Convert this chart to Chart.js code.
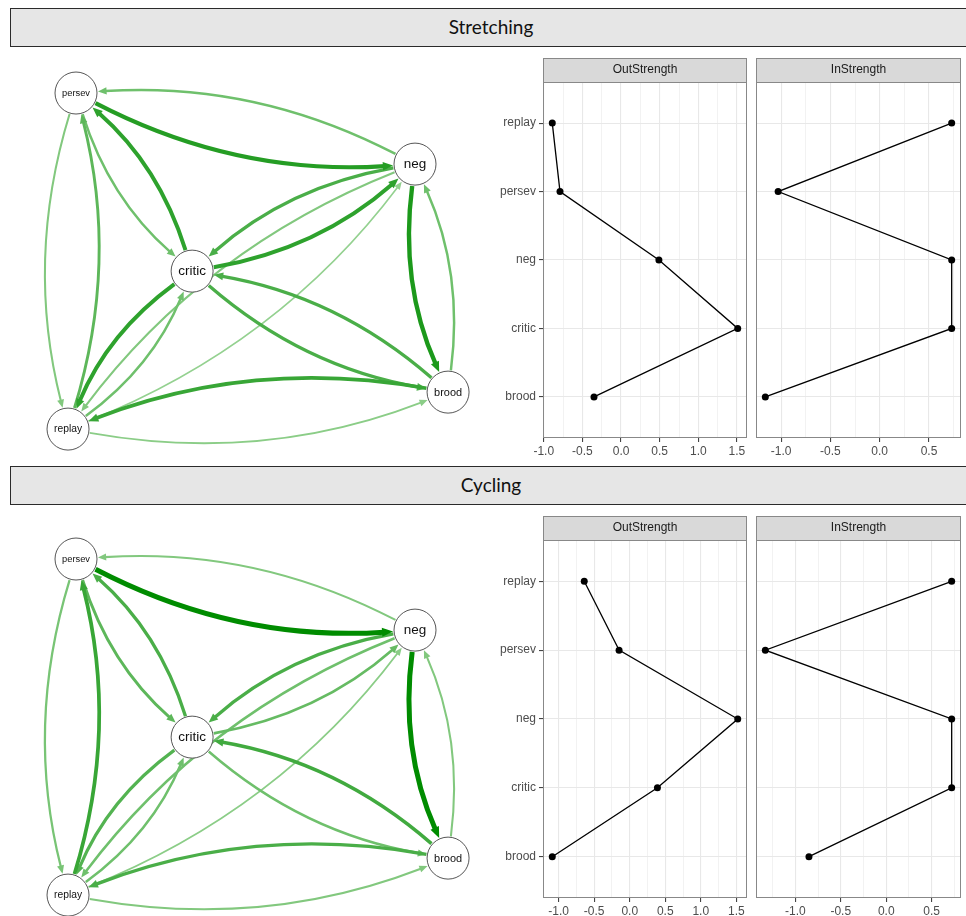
<!DOCTYPE html>
<html>
<head>
<meta charset="utf-8">
<script src="https://cdn.jsdelivr.net/npm/chart.js@4.4.1/dist/chart.umd.min.js"></script>
<style>
  body { margin: 0; background: #fff; width: 966px; height: 916px; position: relative; overflow: hidden; }
  .head { position: absolute; left: 10px; width: 962px; height: 39px; box-sizing: border-box;
          background: #e6e6e6; border: 1.5px solid #2b2b2b; text-align: center;
          font-family: Lato, sans-serif; font-size: 19px; line-height: 36px; color: #111; }
  canvas { position: absolute; }
</style>
</head>
<body>
<div class="head" style="top:8px">Stretching</div>
<div class="head" style="top:466px">Cycling</div>

<canvas id="netTop" width="480" height="410" style="left:0;top:50px"></canvas>
<canvas id="netBot" width="480" height="410" style="left:0;top:516px"></canvas>
<canvas id="outTop" width="262" height="406" style="left:490px;top:56px"></canvas>
<canvas id="inTop" width="214" height="406" style="left:752px;top:56px"></canvas>
<canvas id="outBot" width="262" height="408" style="left:490px;top:514px"></canvas>
<canvas id="inBot" width="214" height="408" style="left:752px;top:514px"></canvas>

<script>
// network nodes (layout coordinates)
const nodes = ['persev', 'neg', 'critic', 'brood', 'replay'];
const nodeX = [-0.958, 0.826, -0.347, 1.0, -1.0];
const nodeY = [1.0, 0.577, -0.06, -0.78, -1.0];

// directed edges
const edgeFrom = ['persev', 'neg', 'persev', 'critic', 'persev', 'replay', 'neg', 'critic', 'neg', 'brood',
                  'neg', 'replay', 'critic', 'brood', 'critic', 'replay', 'brood', 'replay', 'persev', 'brood'];
const edgeTo   = ['neg', 'persev', 'critic', 'persev', 'replay', 'persev', 'critic', 'neg', 'brood', 'neg',
                  'replay', 'neg', 'brood', 'critic', 'replay', 'critic', 'replay', 'brood', 'brood', 'persev'];
const stretchWeights = [0.8, 0.4, 0.4, 0.75, 0.3, 0.5, 0.6, 0.75, 0.85, 0.4,
                        0.3, 0.2, 0.6, 0.6, 0.75, 0.4, 0.7, 0.25, 0, 0];
const cycleWeights   = [1.0, 0.3, 0.5, 0.6, 0.35, 0.7, 0.6, 0.45, 1.0, 0.3,
                        0.4, 0.25, 0.4, 0.65, 0.55, 0.4, 0.6, 0.3, 0, 0];

// centrality plots
const categories = ['replay', 'persev', 'neg', 'critic', 'brood'];
const stretchOut = [-0.89, -0.79, 0.49, 1.51, -0.35];
const stretchIn  = [0.73, -1.03, 0.73, 0.73, -1.16];
const cycleOut   = [-0.64, -0.15, 1.52, 0.39, -1.09];
const cycleIn    = [0.72, -1.33, 0.72, 0.72, -0.85];

const light = [185, 226, 180], dark = [0, 140, 0];
function edgeColor(w) {
  const c = light.map((l, i) => Math.round(l + (dark[i] - l) * w));
  return 'rgb(' + c.join(',') + ')';
}

const edgePlugin = {
  id: 'edges',
  beforeDatasetsDraw(chart, args, opts) {
    const {ctx, scales: {x, y}} = chart;
    const r = 22;
    const order = opts.weights.map((w, k) => k).sort((a, b) => opts.weights[a] - opts.weights[b]);
    ctx.save();
    order.forEach(k => {
      const w = opts.weights[k];
      if (!w) return;
      const f = nodes.indexOf(edgeFrom[k]), t = nodes.indexOf(edgeTo[k]);
      const sx = x.getPixelForValue(nodeX[f]), sy = y.getPixelForValue(nodeY[f]);
      const ex = x.getPixelForValue(nodeX[t]), ey = y.getPixelForValue(nodeY[t]);
      const dx = ex - sx, dy = ey - sy;
      // bend to the right of the direction of travel
      const cx = (sx + ex) / 2 - dy * 0.14, cy = (sy + ey) / 2 + dx * 0.14;
      let ux = cx - sx, uy = cy - sy, ul = Math.hypot(ux, uy);
      ux /= ul; uy /= ul;
      let vx = ex - cx, vy = ey - cy, vl = Math.hypot(vx, vy);
      vx /= vl; vy /= vl;
      const x0 = sx + ux * r, y0 = sy + uy * r;
      const tx = ex - vx * r, ty = ey - vy * r;
      const al = 7 + 4 * w, aw = 3 + 1.6 * w;
      const bx = tx - vx * al * 0.8, by = ty - vy * al * 0.8;
      const col = edgeColor(w);
      ctx.strokeStyle = col;
      ctx.fillStyle = col;
      ctx.lineWidth = 0.8 + 4.2 * w;
      ctx.beginPath();
      ctx.moveTo(x0, y0);
      ctx.quadraticCurveTo(cx, cy, bx, by);
      ctx.stroke();
      ctx.beginPath();
      ctx.moveTo(tx, ty);
      ctx.lineTo(tx - vx * al - vy * aw, ty - vy * al + vx * aw);
      ctx.lineTo(tx - vx * al + vy * aw, ty - vy * al - vx * aw);
      ctx.closePath();
      ctx.fill();
    });
    ctx.restore();
  },
  afterDatasetsDraw(chart) {
    const {ctx, scales: {x, y}} = chart;
    ctx.save();
    ctx.fillStyle = '#111';
    ctx.textAlign = 'center';
    ctx.textBaseline = 'middle';
    nodes.forEach((n, i) => {
      ctx.font = '13.5px "Liberation Sans", Arial, sans-serif';
      const wdt = ctx.measureText(n).width;
      const size = Math.min(13.5, 13.5 * 28 / wdt);
      ctx.font = size + 'px "Liberation Sans", Arial, sans-serif';
      ctx.fillText(n, x.getPixelForValue(nodeX[i]), y.getPixelForValue(nodeY[i]) + 0.5);
    });
    ctx.restore();
  }
};

function netChart(id, weights) {
  return new Chart(document.getElementById(id), {
    type: 'scatter',
    data: {
      datasets: [{
        data: nodes.map((n, i) => ({x: nodeX[i], y: nodeY[i]})),
        pointRadius: 21,
        pointBackgroundColor: '#fff',
        pointBorderColor: '#555',
        pointBorderWidth: 1,
        clip: false
      }]
    },
    options: {
      responsive: false,
      animation: false,
      events: [],
      layout: {padding: 0, autoPadding: false},
      plugins: {legend: {display: false}, tooltip: {enabled: false}, edges: {weights: weights}},
      scales: {
        x: {display: false, min: -1.358, max: 1.168},
        y: {display: false, min: -1.184, max: 1.256}
      }
    },
    plugins: [edgePlugin]
  });
}

const stripPlugin = {
  id: 'strip',
  afterDraw(chart, args, opts) {
    const {ctx, chartArea: a} = chart;
    ctx.save();
    ctx.fillStyle = '#d9d9d9';
    ctx.fillRect(a.left, a.top - 24, a.right - a.left, 24);
    ctx.strokeStyle = '#888';
    ctx.lineWidth = 1;
    ctx.strokeRect(a.left + 0.5, a.top - 23.5, a.right - a.left - 1, 24);
    ctx.strokeRect(a.left + 0.5, a.top + 0.5, a.right - a.left - 1, a.bottom - a.top - 1);
    ctx.fillStyle = '#1a1a1a';
    ctx.font = '12px "Liberation Sans", Arial, sans-serif';
    ctx.textAlign = 'center';
    ctx.textBaseline = 'middle';
    ctx.fillText(opts.text, (a.left + a.right) / 2, a.top - 12);
    ctx.restore();
  }
};

const isMajor = v => Math.abs(v * 2 - Math.round(v * 2)) < 1e-6;
const tickFont = {family: '"Liberation Sans", Arial, sans-serif', size: 12};

function panelChart(id, values, title, showY) {
  const lo = Math.min(...values), hi = Math.max(...values), pad = (hi - lo) * 0.05;
  return new Chart(document.getElementById(id), {
    type: 'scatter',
    data: {
      datasets: [{
        data: values.map((v, i) => ({x: v, y: i})),
        showLine: true,
        borderColor: '#000',
        borderWidth: 1.3,
        pointRadius: 3.5,
        pointBackgroundColor: '#000',
        pointBorderWidth: 0
      }]
    },
    options: {
      responsive: false,
      animation: false,
      events: [],
      layout: {padding: {top: 26, right: 5, left: showY ? 0 : 4, bottom: 0}, autoPadding: false},
      plugins: {legend: {display: false}, tooltip: {enabled: false}, strip: {text: title}},
      scales: {
        x: {
          type: 'linear',
          min: lo - pad,
          max: hi + pad,
          afterBuildTicks: s => {
            const ticks = [];
            for (let v = Math.ceil(s.min * 4) / 4; v <= s.max; v += 0.25) ticks.push({value: Math.round(v * 100) / 100});
            s.ticks = ticks;
          },
          afterFit: s => { s.height = 24; },
          border: {display: false},
          grid: {
            color: c => isMajor(c.tick.value) ? '#e8e8e8' : '#f1f1f1',
            lineWidth: c => isMajor(c.tick.value) ? 1.1 : 0.9,
            tickColor: c => isMajor(c.tick.value) ? '#444' : 'rgba(0,0,0,0)',
            tickLength: 4
          },
          ticks: {
            autoSkip: false, maxRotation: 0, padding: 2, color: '#4d4d4d', font: tickFont,
            callback: v => isMajor(v) ? v.toFixed(1) : ''
          }
        },
        y: {
          type: 'linear',
          reverse: true,
          min: -0.6,
          max: categories.length - 0.4,
          afterBuildTicks: s => { s.ticks = categories.map((c, i) => ({value: i})); },
          afterFit: s => { s.width = showY ? 53 : 0; },
          border: {display: false},
          grid: {color: '#e8e8e8', lineWidth: 1.1, tickColor: '#444', tickLength: 4, drawTicks: showY},
          ticks: {
            display: showY, padding: 3, color: '#4d4d4d', font: tickFont,
            callback: v => categories[v]
          }
        }
      }
    },
    plugins: [stripPlugin]
  });
}

netChart('netTop', stretchWeights);
netChart('netBot', cycleWeights);
panelChart('outTop', stretchOut, 'OutStrength', true);
panelChart('inTop', stretchIn, 'InStrength', false);
panelChart('outBot', cycleOut, 'OutStrength', true);
panelChart('inBot', cycleIn, 'InStrength', false);
</script>
</body>
</html>
